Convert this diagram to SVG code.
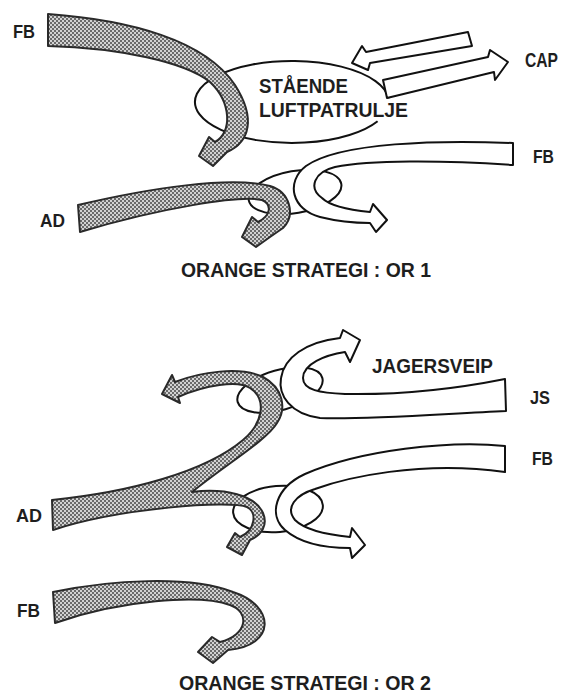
<svg xmlns="http://www.w3.org/2000/svg" width="568" height="694" viewBox="0 0 568 694">
<defs>
<pattern id="dots" width="4" height="4" patternUnits="userSpaceOnUse">
<rect width="4" height="4" fill="#d2d2d2"/>
<rect width="2" height="2" fill="#6a6a6a"/>
<rect x="2" y="2" width="2" height="2" fill="#6a6a6a"/>
</pattern>
</defs>
<style>
.sh{fill:url(#dots);stroke:#2a2a2a;stroke-width:2;stroke-linejoin:round}
.wh{fill:#fff;stroke:#111;stroke-width:2;stroke-linejoin:round}
.el{fill:none;stroke:#111;stroke-width:2}
.lb{font-family:"Liberation Sans",Arial,sans-serif;font-weight:bold;fill:#1e1e1e}
</style>
<rect width="568" height="694" fill="#fff"/>

<g id="areas">
<path id="cap-area" class="el" d="M 377.6 121.2 A 97 41 0 1 1 388.6 98.4"/>
<ellipse id="engage1" class="el" cx="295" cy="192" rx="47" ry="21" transform="rotate(-10 295 192)"/>
<ellipse id="engage2" class="el" cx="280" cy="390" rx="44" ry="20" transform="rotate(-16 280 390)"/>
<ellipse id="engage3" class="el" cx="278" cy="509" rx="45" ry="23" transform="rotate(-5 278 509)"/>
</g>

<g id="connectors">
<g id="fb1-shaded">
<path class="sh" d="M 48 14 C 130 20, 205 40, 235 85 C 256 118, 250 142, 227 152 L 213 166 L 199 156 L 209 137 L 215 142 C 232 133, 232 103, 210 82 C 185 62, 120 48, 48 46 Z"/>
</g>
<g id="cap-in">
<path class="wh" d="M 468 32 L 366 52 L 362 46 L 352 63 L 368 70 L 370 63 L 472 46 Z"/>
</g>
<g id="cap-out">
<path class="wh" d="M 383 80 L 488 57 L 490 50 L 508 62 L 495 80 L 494 72 L 387 98 Z"/>
</g>
<g id="fb1-white">
<path class="wh" d="M 513 143 C 440 140, 340 142, 306 166 C 285 182, 292 210, 320 217 C 340 222, 355 223, 370 223 L 376 232 L 387 220 L 373 204 L 370 212 C 350 210, 330 206, 322 198 C 308 188, 314 172, 335 167 C 370 160, 440 160, 513 165 Z"/>
</g>
<g id="ad1-shaded">
<path class="sh" d="M 78 205 C 150 188, 230 176, 270 186 C 290 192, 296 215, 283 228 L 270 237 L 256 247 L 242 237 L 252 217 L 258 222 C 270 216, 273 205, 262 200 C 240 195, 160 208, 80 232 Z"/>
</g>
<g id="js-white">
<path class="wh" d="M 506 411 C 440 414, 360 420, 320 418 C 290 414, 278 395, 281 378 C 284 358, 305 342, 340 338 L 343 330 L 360 340 L 350 362 L 345 352 C 325 355, 303 364, 303 378 C 303 390, 320 393, 345 394 C 400 395, 450 390, 505 379 Z"/>
</g>
<g id="fb2-white">
<path class="wh" d="M 505 446 C 450 440, 360 450, 305 474 C 275 488, 268 515, 285 530 C 300 543, 325 548, 350 548 L 352 558 L 365 545 L 352 528 L 350 537 C 330 535, 305 530, 295 520 C 285 508, 295 495, 315 489 C 345 478, 420 460, 505 472 Z"/>
</g>
<g id="ad2-shaded">
<path class="sh" d="M 52 500 C 130 492, 205 472, 243 440 C 262 424, 268 400, 250 388 C 238 380, 205 385, 178 397 L 180 403 L 162 394 L 172 375 L 175 382 C 200 372, 240 366, 263 377 C 283 388, 287 408, 277 423 C 267 440, 225 465, 192 492 C 225 488, 255 495, 263 513 C 268 525, 262 535, 250 540 L 242 555 L 227 547 L 235 533 L 240 537 C 256 530, 257 512, 247 507 C 230 500, 120 508, 53 530 Z"/>
</g>
<g id="fb3-shaded">
<path class="sh" d="M 53 592 C 110 580, 190 575, 233 592 C 276 606, 276 646, 228 650 L 213 663 L 198 652 L 212 637 L 220 642 C 248 635, 250 612, 230 605 C 200 594, 120 600, 55 623 Z"/>
</g>
</g>

<g id="labels">
<text class="lb" x="13" y="38" font-size="18" textLength="22" lengthAdjust="spacingAndGlyphs">FB</text>
<text class="lb" x="525" y="67" font-size="20" textLength="33" lengthAdjust="spacingAndGlyphs">CAP</text>
<text class="lb" x="259" y="93" font-size="21" textLength="89" lengthAdjust="spacingAndGlyphs">STÅENDE</text>
<text class="lb" x="259" y="117" font-size="21" textLength="149" lengthAdjust="spacingAndGlyphs">LUFTPATRULJE</text>
<text class="lb" x="533" y="163" font-size="19" textLength="21" lengthAdjust="spacingAndGlyphs">FB</text>
<text class="lb" x="40" y="227" font-size="19" textLength="25" lengthAdjust="spacingAndGlyphs">AD</text>
<text class="lb" x="181" y="277" font-size="21" textLength="250" lengthAdjust="spacingAndGlyphs">ORANGE STRATEGI : OR 1</text>
<text class="lb" x="372" y="373" font-size="21" textLength="121" lengthAdjust="spacingAndGlyphs">JAGERSVEIP</text>
<text class="lb" x="530" y="404" font-size="19" textLength="20" lengthAdjust="spacingAndGlyphs">JS</text>
<text class="lb" x="532" y="465" font-size="19" textLength="21" lengthAdjust="spacingAndGlyphs">FB</text>
<text class="lb" x="16" y="522" font-size="19" textLength="26" lengthAdjust="spacingAndGlyphs">AD</text>
<text class="lb" x="17" y="617" font-size="18" textLength="23" lengthAdjust="spacingAndGlyphs">FB</text>
<text class="lb" x="179" y="690" font-size="21" textLength="252" lengthAdjust="spacingAndGlyphs">ORANGE STRATEGI : OR 2</text>
</g>
</svg>
